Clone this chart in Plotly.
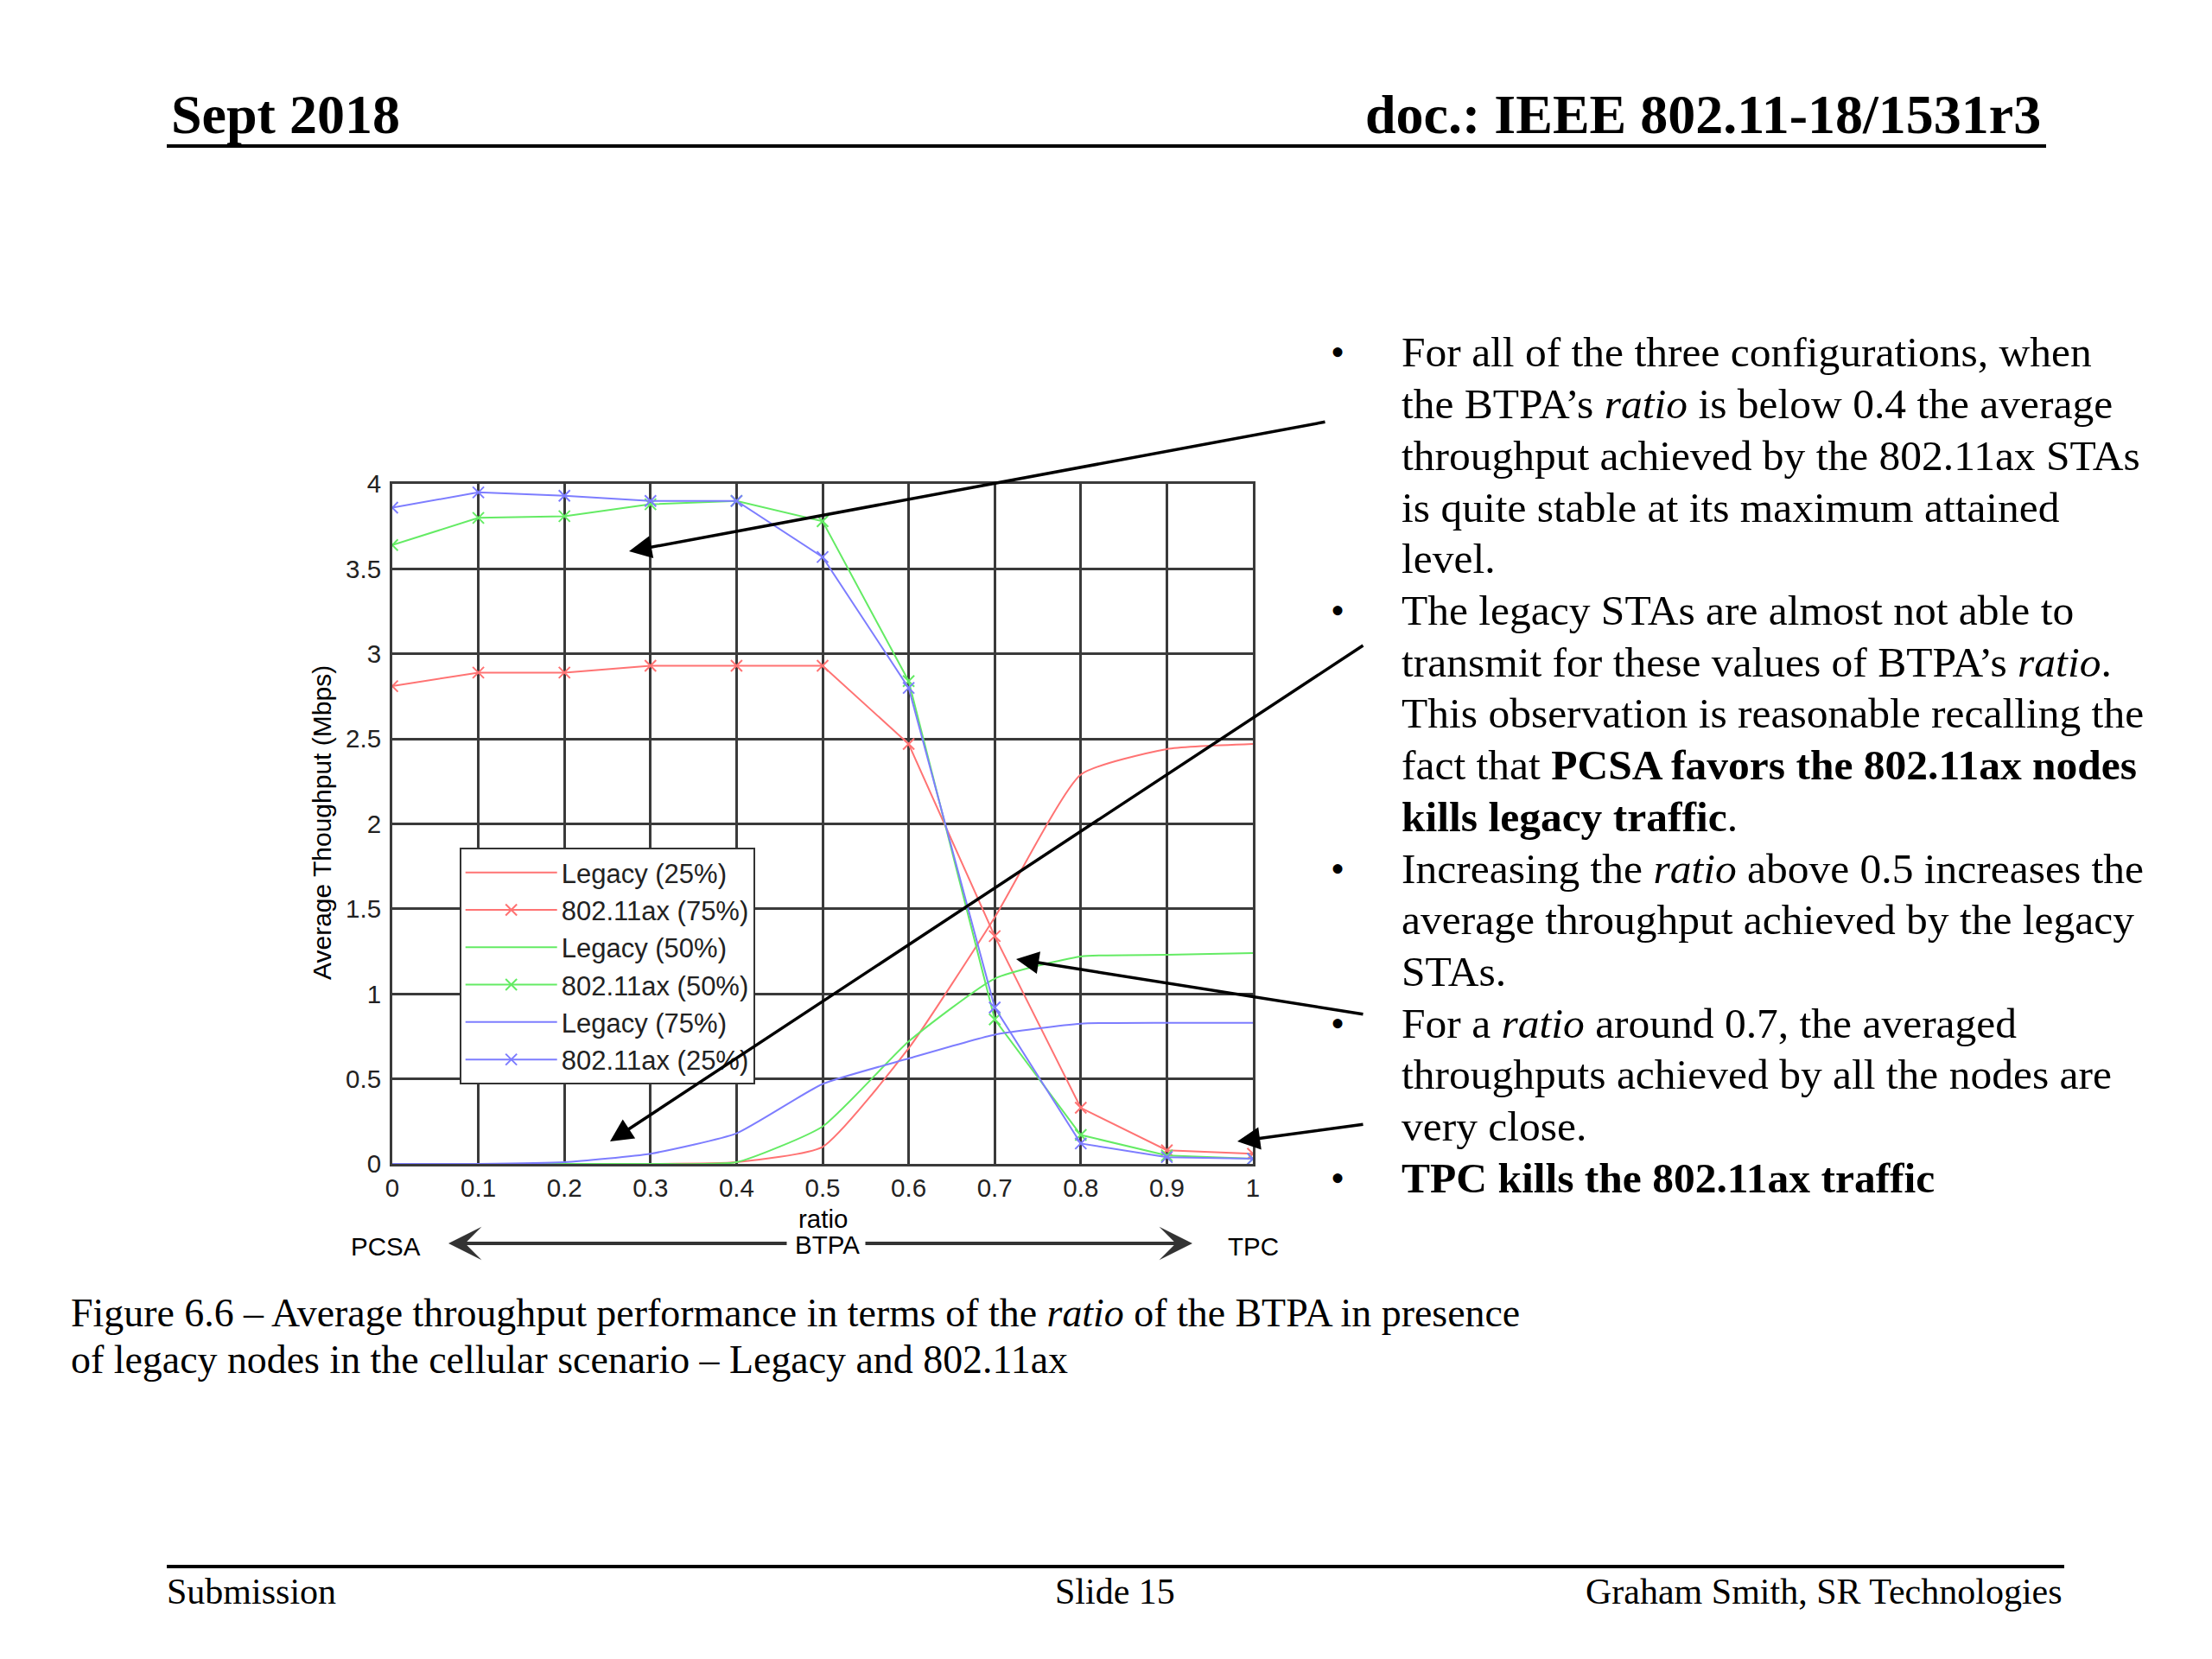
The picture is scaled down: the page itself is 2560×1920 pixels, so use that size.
import plotly.graph_objects as go

# ---------------- data ----------------
ratio = [0, 0.1, 0.2, 0.3, 0.4, 0.5, 0.6, 0.7, 0.8, 0.9, 1.0]
legacy_25 = [0, 0, 0, 0, 0.01, 0.10, 0.68, 1.45, 2.29, 2.44, 2.47]
ax_75 = [2.81, 2.89, 2.89, 2.93, 2.93, 2.93, 2.47, 1.34, 0.33, 0.08, 0.06]
legacy_50 = [0, 0, 0, 0, 0.01, 0.22, 0.72, 1.09, 1.22, 1.23, 1.24]
ax_50 = [3.64, 3.80, 3.81, 3.88, 3.90, 3.78, 2.84, 0.85, 0.17, 0.05, 0.03]
legacy_75 = [0, 0, 0.01, 0.06, 0.18, 0.47, 0.62, 0.76, 0.825, 0.83, 0.83]
ax_25 = [3.86, 3.95, 3.93, 3.90, 3.90, 3.57, 2.80, 0.92, 0.12, 0.04, 0.03]

x_ticks = [0, 0.1, 0.2, 0.3, 0.4, 0.5, 0.6, 0.7, 0.8, 0.9, 1.0]
x_ticktext = ["0", "0.1", "0.2", "0.3", "0.4", "0.5", "0.6", "0.7", "0.8", "0.9", "1"]
y_ticks = [0, 0.5, 1, 1.5, 2, 2.5, 3, 3.5, 4]
y_ticktext = ["0", "0.5", "1", "1.5", "2", "2.5", "3", "3.5", "4"]

series = [
    ("Legacy (25%)", legacy_25, "rgb(255,115,115)", False),
    ("802.11ax (75%)", ax_75, "rgb(255,115,115)", True),
    ("Legacy (50%)", legacy_50, "rgb(100,235,100)", False),
    ("802.11ax (50%)", ax_50, "rgb(100,235,100)", True),
    ("Legacy (75%)", legacy_75, "rgb(125,125,255)", False),
    ("802.11ax (25%)", ax_25, "rgb(125,125,255)", True),
]

# ---------------- geometry (pixels) ----------------
FW, FH = 2560, 1920
L, R, T, B = 454, 1450, 560, 1347
W, H = R - L, B - T


def px(X):
    return (X - L) / W


def py(Y):
    return (B - Y) / H


SANS = "Liberation Sans, Arial, Helvetica, sans-serif"
SERIF = "Liberation Serif, Times New Roman, serif"

fig = go.Figure()
for name, vals, col, mk in series:
    if mk:
        fig.add_trace(go.Scatter(
            x=ratio, y=vals, name=name, mode="lines+markers",
            line=dict(color=col, width=2),
            marker=dict(symbol="x-thin", size=13, line=dict(width=2, color=col), color=col),
        ))
    else:
        fig.add_trace(go.Scatter(
            x=ratio, y=vals, name=name, mode="lines",
            line=dict(color=col, width=2, shape="spline", smoothing=0.5),
        ))

annotations = []


def text(X, Y, s, size, family=SERIF, xanchor="left", yanchor="middle", color="black", angle=0):
    annotations.append(dict(x=px(X), y=py(Y), xref="paper", yref="paper", text=s, showarrow=False,
                            xanchor=xanchor, yanchor=yanchor, textangle=angle,
                            font=dict(size=size, family=family, color=color)))


def arrow(hx, hy, tx, ty, width=3.5, size=1.5, head=2, color="black"):
    annotations.append(dict(
        x=px(hx), y=py(hy), xref="paper", yref="paper", text="",
        showarrow=True, ax=tx - hx, ay=ty - hy, axref="pixel", ayref="pixel",
        arrowhead=head, arrowsize=size, arrowwidth=width, arrowcolor=color,
        standoff=0, startstandoff=0,
    ))


# header / footer
text(196, 133, "<b>Sept 2018</b>", 64)
text(2364, 133, "<b>doc.: IEEE 802.11-18/1531r3</b>", 64, xanchor="right")
text(191, 1842, "Submission", 42)
text(1290, 1842, "Slide 15", 42, xanchor="center")
text(2389, 1842, "Graham Smith, SR Technologies", 42, xanchor="right")

# axis labels & PCSA/TPC scale
text(372, 952, "Average Thoughput (Mbps)", 30, family=SANS, xanchor="center", angle=-90)
text(952, 1410, "ratio", 29.5, family=SANS, xanchor="center")
arrow(519, 1439, 912, 1439, width=4, size=1.6, head=3, color="#333")
arrow(1380, 1439, 1000, 1439, width=4, size=1.6, head=3, color="#333")
text(957, 1440, "BTPA", 29.5, family=SANS, xanchor="center")
text(446, 1442, "PCSA", 29.5, family=SANS, xanchor="center")
text(1450, 1442, "TPC", 29.5, family=SANS, xanchor="center")

# caption
text(80, 1519, "Figure 6.6 – Average throughput performance in terms of the <i>ratio</i> of the BTPA in presence", 45.9)
text(80, 1573, "of legacy nodes in the cellular scenario – Legacy and 802.11ax", 45.9)

# bullet text
bullet_lines = [
    (True, "For all of the three configurations, when"),
    (False, "the BTPA’s <i>ratio</i> is below 0.4 the average"),
    (False, "throughput achieved by the 802.11ax STAs"),
    (False, "is quite stable at its maximum attained"),
    (False, "level."),
    (True, "The legacy STAs are almost not able to"),
    (False, "transmit for these values of BTPA’s <i>ratio</i>."),
    (False, "This observation is reasonable recalling the"),
    (False, "fact that <b>PCSA favors the 802.11ax nodes</b>"),
    (False, "<b>kills legacy traffic</b>."),
    (True, "Increasing the <i>ratio</i> above 0.5 increases the"),
    (False, "average throughput achieved by the legacy"),
    (False, "STAs."),
    (True, "For a <i>ratio</i> around 0.7, the averaged"),
    (False, "throughputs achieved by all the nodes are"),
    (False, "very close."),
    (True, "<b>TPC kills the 802.11ax traffic</b>"),
]
y0, dy = 408.0, 59.7
for i, (has_bullet, s) in enumerate(bullet_lines):
    yy = y0 + i * dy
    if has_bullet:
        text(1548, yy, "•", 46, xanchor="center")
    text(1620, yy, s, 49.5)

# callout arrows
arrow(728, 638, 1535, 488)
arrow(706, 1321, 1579, 746)
arrow(1176, 1110, 1579, 1174)
arrow(1432, 1321, 1579, 1301)

shapes = [
    dict(type="line", xref="paper", yref="paper", x0=px(193), x1=px(2368), y0=py(169), y1=py(169),
         line=dict(color="black", width=4)),
    dict(type="line", xref="paper", yref="paper", x0=px(193), x1=px(2389), y0=py(1813), y1=py(1813),
         line=dict(color="black", width=4)),
]

axis_common = dict(
    showgrid=True, gridcolor="#3a3a3a", gridwidth=3,
    showline=True, linecolor="#3a3a3a", linewidth=3, mirror=True,
    zeroline=False, ticks="", tickfont=dict(size=29.5, family=SANS, color="#222"),
    tickmode="array", fixedrange=True,
)

fig.update_layout(
    width=FW, height=FH,
    margin=dict(l=L, r=FW - R, t=T, b=FH - B, autoexpand=False),
    paper_bgcolor="white", plot_bgcolor="white",
    xaxis=dict(range=[0, 1], tickvals=x_ticks, ticktext=x_ticktext, ticklabelstandoff=0, **axis_common),
    yaxis=dict(range=[0, 4], tickvals=y_ticks, ticktext=y_ticktext, ticklabelstandoff=4, **axis_common),
    legend=dict(
        x=px(531.7), y=py(981), xanchor="left", yanchor="top",
        bgcolor="white", bordercolor="#333", borderwidth=2,
        font=dict(size=31, family=SANS, color="#222"),
        itemwidth=106, tracegroupgap=0,
    ),
    showlegend=True,
    annotations=annotations,
    shapes=shapes,
)

fig.write_html("out.html", config={"displayModeBar": False},
               post_script="document.body.style.margin='0';")
